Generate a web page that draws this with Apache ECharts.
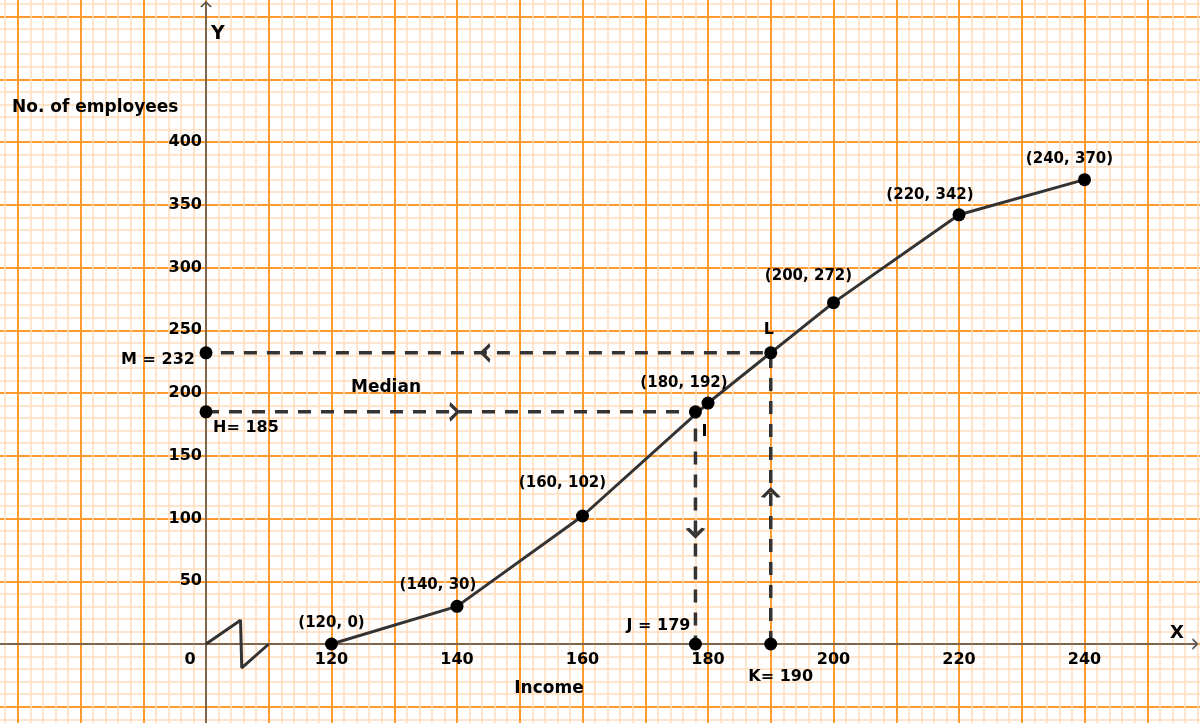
<!DOCTYPE html>
<html>
<head>
<meta charset="utf-8">
<title>Ogive - Income vs No. of employees</title>
<script src="https://cdn.jsdelivr.net/npm/echarts@6.0.0/dist/echarts.min.js"></script>
<style>
    html, body { margin: 0; padding: 0; background: #fff; }
    #chart { width: 1200px; height: 723px; }
</style>
</head>
<body>
<div id="chart"></div>
<script>
    // ogive (less than type) values
    var income = [120, 140, 160, 180, 200, 220, 240];
    var employees = [0, 30, 102, 192, 272, 342, 370];

    // tick labels shown on the axes
    var xTickLabels = [120, 140, 160, 180, 200, 220, 240];
    var yTickLabels = [50, 100, 150, 200, 250, 300, 350, 400];

    // median construction points H, I, J, K, L, M
    var medianX = [100, 178, 178, 190, 190, 100];
    var medianY = [185, 185, 0, 0, 232, 232];
    var medianLabels = ["H= 185", "I", "J = 179", "K= 190", "L", "M = 232"];

    // arrow heads on the dashed lines (direction in degrees)
    var arrowX = [139.5, 144.6, 178, 190];
    var arrowY = [185, 232, 89, 120];
    var arrowDir = [0, 180, -90, 90];

    // axis break zigzag near the origin
    var breakX = [100, 105.5, 105.7, 110];
    var breakY = [0, 19, -19, 0];

    // label placement (pixels from the dot centre)
    var pointLabelOffsets = [[0, -21], [-19, -21], [-20, -33], [-24, -20], [-25, -27], [-29, -20], [-15, -21]];
    var medianLabelOffsets = [[40, 16], [9, 20], [-37, -18], [10, 33], [-2, -23], [-48, 7]];

    var FONT = "DejaVu Sans";
    var INK = "#333333";

    var chartDom = document.getElementById("chart");
    var myChart = echarts.init(chartDom);

    var chevron = "path://M0,0L10,10L0,20";

    function note(text, x, y, size, align) {
        return {
            type: "text",
            x: x,
            y: y,
            silent: true,
            z: 20,
            style: {
                text: text,
                fill: "#000",
                font: "bold " + size + "px " + FONT,
                align: align || "center",
                verticalAlign: "middle",
                lineWidth: 0
            }
        };
    }

    var option = {
        animation: false,
        backgroundColor: "#ffffff",
        grid: {
            left: -45,
            right: -10,
            top: -46.25,
            bottom: -46.5,
            containLabel: false,
            outerBoundsMode: "none"
        },
        xAxis: {
            type: "value",
            min: 60,
            max: 260,
            interval: 10,
            offset: -125.5,
            axisLine: { show: false, onZero: false },
            axisTick: { show: false },
            axisLabel: {
                margin: 8,
                color: "#000",
                fontFamily: FONT,
                fontWeight: "bold",
                fontSize: 16,
                hideOverlap: false,
                formatter: function (v) {
                    return xTickLabels.indexOf(v) >= 0 ? String(v) : "";
                }
            },
            splitLine: { show: true, lineStyle: { color: "#FF9A2E", width: 2 } },
            minorTick: { show: false, splitNumber: 5 },
            minorSplitLine: { show: true, lineStyle: { color: "#FFDDBB", width: 1.5 } }
        },
        yAxis: {
            type: "value",
            min: -100,
            max: 550,
            interval: 50,
            offset: -251,
            axisLine: { show: false, onZero: false },
            axisTick: { show: false },
            axisLabel: {
                margin: 4,
                padding: [4, 0, 0, 0],
                color: "#000",
                fontFamily: FONT,
                fontWeight: "bold",
                fontSize: 16,
                formatter: function (v) {
                    return yTickLabels.indexOf(v) >= 0 ? String(v) : "";
                }
            },
            splitLine: { show: true, lineStyle: { color: "#FF9A2E", width: 2 } },
            minorTick: { show: false, splitNumber: 5 },
            minorSplitLine: { show: true, lineStyle: { color: "#FFDDBB", width: 1.5 } }
        },
        graphic: [
            note("No. of employees", 12, 108, 17, "left"),
            note("Income", 549, 689, 17),
            note("Median", 386, 388, 17),
            note("Y", 218, 34, 19),
            note("X", 1177, 633, 18),
            note("0", 190, 660, 16)
        ],
        series: [
            // coordinate axes
            {
                type: "line",
                data: [[60, 0], [258, 0]],
                symbol: "none",
                silent: true,
                z: 3,
                lineStyle: { color: "#555", width: 1.5 }
            },
            {
                type: "line",
                data: [[100, -100], [100, 511.5]],
                symbol: "none",
                silent: true,
                z: 3,
                lineStyle: { color: "#555", width: 1.5 }
            },
            {
                type: "scatter",
                data: [
                    { value: [257.6, 0], symbolRotate: 0 },
                    { value: [100, 509.5], symbolRotate: 90 }
                ],
                symbol: chevron,
                symbolSize: [5, 10],
                silent: true,
                z: 3,
                itemStyle: { color: "rgba(0,0,0,0)", borderColor: "#555", borderWidth: 1.5, opacity: 1 }
            },
            // axis break
            {
                type: "line",
                data: breakX.map(function (x, i) { return [x, breakY[i]]; }),
                symbol: "none",
                silent: true,
                z: 4,
                lineStyle: { color: INK, width: 3 }
            },
            // dashed median construction lines
            {
                type: "line",
                data: [0, 1, 2].map(function (i) { return [medianX[i], medianY[i]]; }),
                symbol: "none",
                silent: true,
                z: 5,
                lineStyle: { color: INK, width: 3.5, type: [13, 10] }
            },
            {
                type: "line",
                data: [3, 4, 5].map(function (i) { return [medianX[i], medianY[i]]; }),
                symbol: "none",
                silent: true,
                z: 5,
                lineStyle: { color: INK, width: 3.5, type: [13, 10] }
            },
            {
                type: "scatter",
                data: arrowX.map(function (x, i) {
                    return { value: [x, arrowY[i]], symbolRotate: arrowDir[i] };
                }),
                symbol: chevron,
                symbolSize: [8, 16],
                silent: true,
                z: 6,
                itemStyle: { color: "rgba(0,0,0,0)", borderColor: INK, borderWidth: 3, opacity: 1 }
            },
            // ogive
            {
                type: "line",
                data: income.map(function (x, i) {
                    return { value: [x, employees[i]], label: { offset: pointLabelOffsets[i] } };
                }),
                symbol: "circle",
                symbolSize: 13,
                showAllSymbol: true,
                silent: true,
                z: 7,
                lineStyle: { color: INK, width: 3 },
                itemStyle: { color: "#000" },
                label: {
                    show: true,
                    position: "inside",
                    color: "#000",
                    textBorderWidth: 0,
                    fontFamily: FONT,
                    fontWeight: "bold",
                    fontSize: 15,
                    formatter: function (p) {
                        return "(" + p.value[0] + ", " + p.value[1] + ")";
                    }
                }
            },
            // median points
            {
                type: "scatter",
                data: medianX.map(function (x, i) {
                    return { value: [x, medianY[i]], name: medianLabels[i], label: { offset: medianLabelOffsets[i] } };
                }),
                symbol: "circle",
                symbolSize: 13,
                silent: true,
                z: 8,
                itemStyle: { color: "#000", opacity: 1 },
                label: {
                    show: true,
                    position: "inside",
                    color: "#000",
                    textBorderWidth: 0,
                    fontFamily: FONT,
                    fontWeight: "bold",
                    fontSize: 16,
                    formatter: function (p) { return p.name; }
                }
            }
        ]
    };

    option && myChart.setOption(option);
</script>
</body>
</html>
